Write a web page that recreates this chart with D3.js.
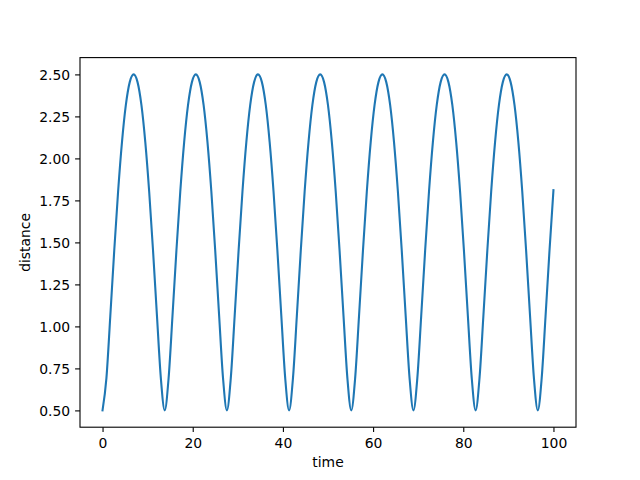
<!DOCTYPE html>
<html>
<head>
<meta charset="utf-8">
<script src="https://cdn.jsdelivr.net/npm/d3@7"></script>
<style>
  body { margin: 0; background: #fff; }
  svg { display: block; }
  .tick text { font-family: "DejaVu Sans", sans-serif; font-size: 13.9px; fill: #000; }
  .axis-label { font-family: "DejaVu Sans", sans-serif; font-size: 13.9px; fill: #000; }
</style>
</head>
<body>
<svg id="chart" width="640" height="480"></svg>
<script>
// time samples (about 16 per oscillation)
const time = [
  0, 0.86, 1.72, 2.59, 3.45, 4.31, 5.17, 6.03, 6.90, 7.76, 8.62, 9.48, 10.34, 11.20, 12.07, 12.93,
  13.79, 14.65, 15.51, 16.38, 17.24, 18.10, 18.96, 19.82, 20.69, 21.55, 22.41, 23.27, 24.13, 24.99, 25.86, 26.72,
  27.58, 28.44, 29.30, 30.17, 31.03, 31.89, 32.75, 33.61, 34.47, 35.34, 36.20, 37.06, 37.92, 38.78, 39.65, 40.51,
  41.37, 42.23, 43.09, 43.96, 44.82, 45.68, 46.54, 47.40, 48.27, 49.13, 49.99, 50.85, 51.71, 52.57, 53.44, 54.30,
  55.16, 56.02, 56.88, 57.75, 58.61, 59.47, 60.33, 61.19, 62.06, 62.92, 63.78, 64.64, 65.50, 66.36, 67.23, 68.09,
  68.95, 69.81, 70.67, 71.54, 72.40, 73.26, 74.12, 74.98, 75.85, 76.71, 77.57, 78.43, 79.29, 80.15, 81.02, 81.88,
  82.74, 83.60, 84.46, 85.33, 86.19, 87.05, 87.91, 88.77, 89.64, 90.50, 91.36, 92.22, 93.08, 93.94, 94.81, 95.67,
  96.53, 97.39, 98.25, 99.12, 100
];

const distance = [
  0.5, 0.692, 1.062, 1.450, 1.803, 2.097, 2.318, 2.454, 2.5, 2.454, 2.318, 2.097, 1.803, 1.450, 1.062, 0.692,
  0.5, 0.692, 1.062, 1.450, 1.803, 2.097, 2.318, 2.454, 2.5, 2.454, 2.318, 2.097, 1.803, 1.450, 1.062, 0.692,
  0.5, 0.692, 1.062, 1.450, 1.803, 2.097, 2.318, 2.454, 2.5, 2.454, 2.318, 2.097, 1.803, 1.450, 1.062, 0.692,
  0.5, 0.692, 1.062, 1.450, 1.803, 2.097, 2.318, 2.454, 2.5, 2.454, 2.318, 2.097, 1.803, 1.450, 1.062, 0.692,
  0.5, 0.692, 1.062, 1.450, 1.803, 2.097, 2.318, 2.454, 2.5, 2.454, 2.318, 2.097, 1.803, 1.450, 1.062, 0.692,
  0.5, 0.692, 1.062, 1.450, 1.803, 2.097, 2.318, 2.454, 2.5, 2.454, 2.318, 2.097, 1.803, 1.450, 1.062, 0.692,
  0.5, 0.692, 1.062, 1.450, 1.803, 2.097, 2.318, 2.454, 2.5, 2.454, 2.318, 2.097, 1.803, 1.450, 1.062, 0.692,
  0.5, 0.692, 1.062, 1.450, 1.811
];

const xTicks = [0, 20, 40, 60, 80, 100];
const yTicks = [0.5, 0.75, 1.0, 1.25, 1.5, 1.75, 2.0, 2.25, 2.5];

const margin = { left: 80, top: 57.6, right: 64, bottom: 52.8 };
const width = 640 - margin.left - margin.right;
const height = 480 - margin.top - margin.bottom;

const svg = d3.select('#chart');
const g = svg.append('g').attr('transform', `translate(${margin.left},${margin.top})`);

// matplotlib style 5% padding on the data range
const xScale = d3.scaleLinear().domain([-5, 105]).range([0, width]);
const yScale = d3.scaleLinear().domain([0.4, 2.6]).range([height, 0]);

const points = time.map((t, i) => [t, distance[i]]);

const line = d3.line()
    .x((d) => xScale(d[0]))
    .y((d) => yScale(d[1]))
    .curve(d3.curveMonotoneX);

g.append('path')
    .datum(points)
    .attr('fill', 'none')
    .attr('stroke', '#1f77b4')
    .attr('stroke-width', 2.1)
    .attr('stroke-linejoin', 'round')
    .attr('stroke-linecap', 'square')
    .attr('d', line);

const xAxis = g.append('g')
    .attr('transform', `translate(0,${height})`)
    .call(d3.axisBottom(xScale).tickValues(xTicks).tickSize(4.9).tickPadding(4.9).tickFormat(d3.format('d')));
const yAxis = g.append('g')
    .call(d3.axisLeft(yScale).tickValues(yTicks).tickSize(4.9).tickPadding(4.9).tickFormat(d3.format('.2f')));

[xAxis, yAxis].forEach((ax) => {
    ax.select('.domain').remove();
    ax.selectAll('.tick line').attr('stroke', '#000').attr('stroke-width', 1.1);
});
xAxis.selectAll('.tick text').attr('dy', '0.75em').attr('y', 10.5);
yAxis.selectAll('.tick text').attr('dy', '0.36em');

// frame (all four spines)
g.append('rect')
    .attr('width', width)
    .attr('height', height)
    .attr('fill', 'none')
    .attr('stroke', '#000')
    .attr('stroke-width', 1.1);

svg.append('text')
    .attr('class', 'axis-label')
    .attr('x', margin.left + width / 2)
    .attr('y', 467)
    .attr('text-anchor', 'middle')
    .text('time');

svg.append('text')
    .attr('class', 'axis-label')
    .attr('transform', `translate(30,${margin.top + height / 2}) rotate(-90)`)
    .attr('text-anchor', 'middle')
    .text('distance');
</script>
</body>
</html>
